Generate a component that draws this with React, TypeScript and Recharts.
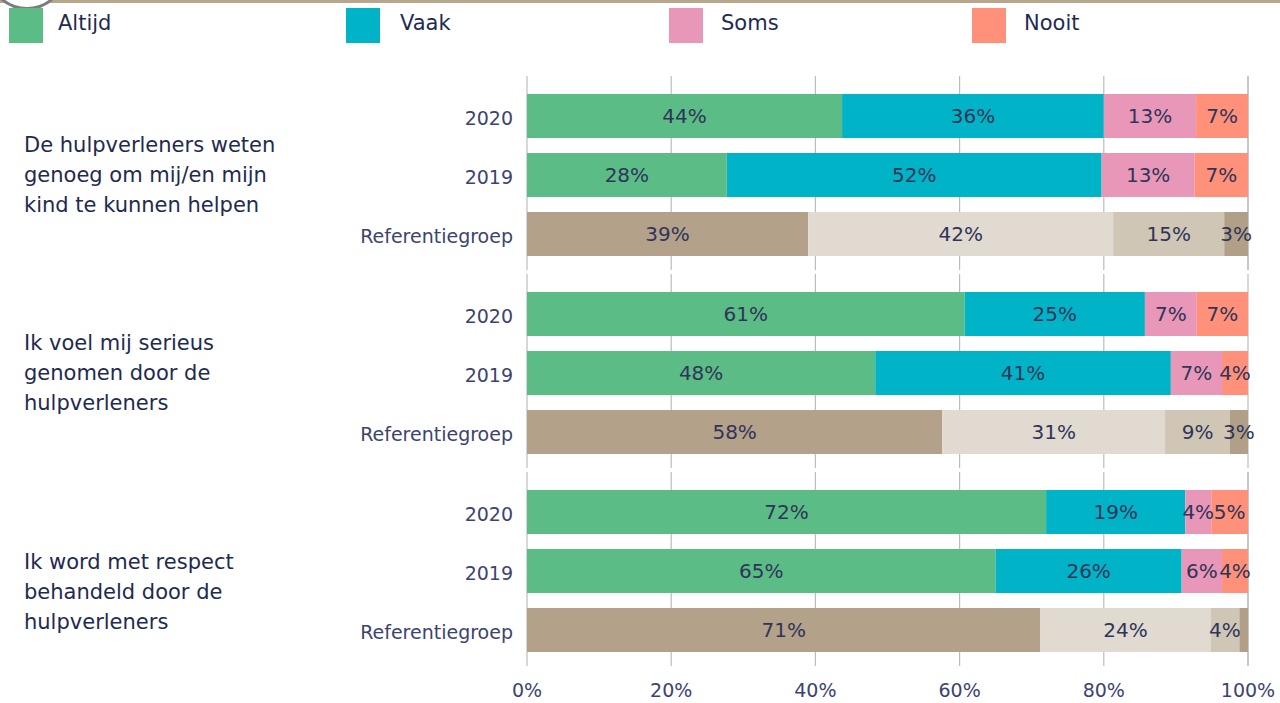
import React from 'react';
import { BarChart, Bar, XAxis, YAxis, CartesianGrid, Cell, LabelList } from 'recharts';

// categories / rows
const rowLabels = ['2020', '2019', 'Referentiegroep'];
const refLabel = 'Referentiegroep';
const series = ['Altijd', 'Vaak', 'Soms', 'Nooit'];
const xTicks = [0, 20, 40, 60, 80, 100];

// question texts (one entry per line)
const questionLines = [
  ['De hulpverleners weten', 'genoeg om mij/en mijn', 'kind te kunnen helpen'],
  ['Ik voel mij serieus', 'genomen door de', 'hulpverleners'],
  ['Ik word met respect', 'behandeld door de', 'hulpverleners'],
];

// values per question, rows in order 2020, 2019, Referentiegroep
const altijd = [
  [43.7, 27.7, 39.0],
  [60.7, 48.3, 57.6],
  [72.0, 65.0, 71.2],
];
const vaak = [
  [36.3, 52.0, 42.3],
  [25.0, 41.0, 30.9],
  [19.3, 25.8, 23.6],
];
const soms = [
  [12.8, 12.9, 15.4],
  [7.2, 7.1, 9.0],
  [3.6, 5.6, 4.0],
];
const nooit = [
  [7.2, 7.4, 3.3],
  [7.1, 3.6, 2.5],
  [5.1, 3.6, 1.2],
];

const seriesColors = ['#5bbc86', '#00b3c6', '#e997b8', '#ff907a'];
const refColors = ['#b3a189', '#e1dad0', '#d0c6b6', '#b1a087'];

const FONT = "'DejaVu Sans', Verdana, sans-serif";
const W = 1280;
const PLOT_LEFT = 527;
const PLOT_RIGHT = 1248;
const PLOT_H = 194;
const AXIS_H = 36;

const groupTops = [76, 274, 472];
const questionTops = [130, 328, 547];
const legendLefts = [9, 346, 669, 972];
const legendTextLefts = [58, 400, 721, 1024];

const buildGroup = (g: number) =>
  rowLabels.map((row, i) => ({
    row,
    Altijd: altijd[g][i],
    Vaak: vaak[g][i],
    Soms: soms[g][i],
    Nooit: nooit[g][i],
  }));

const fmt = (v: any) => (Number(v) >= 2 ? `${Math.round(Number(v))}%` : '');

const GroupChart: React.FC<{ g: number; showAxis: boolean }> = ({ g, showAxis }) => {
  const data = buildGroup(g);
  const height = PLOT_H + (showAxis ? AXIS_H : 0);
  return (
    <div style={{ position: 'absolute', left: 0, top: groupTops[g], width: W, height }}>
      <BarChart
        width={W}
        height={height}
        data={data}
        layout="vertical"
        barSize={44}
        margin={{ top: 0, right: W - PLOT_RIGHT, bottom: 0, left: 0 }}
      >
        <CartesianGrid horizontal={false} stroke="#bcbcbc" strokeWidth={1.2} />
        <XAxis
          type="number"
          domain={[0, 100]}
          ticks={xTicks}
          interval={0}
          hide={!showAxis}
          height={AXIS_H}
          axisLine={false}
          tickLine={false}
          tickSize={0}
          tickMargin={18}
          tickFormatter={(v) => `${v}%`}
          tick={{ fill: '#3d4370', fontSize: 19, fontFamily: FONT }}
        />
        <YAxis
          type="category"
          dataKey="row"
          width={PLOT_LEFT}
          axisLine={false}
          tickLine={false}
          tickSize={0}
          tickMargin={14}
          padding={{ top: 10, bottom: 7 }}
          tick={{ fill: '#3d4370', fontSize: 19, fontFamily: FONT, dy: 3 }}
        />
        {series.map((s, si) => (
          <Bar key={s} dataKey={s} stackId="a" isAnimationActive={false}>
            {data.map((d, i) => (
              <Cell key={i} fill={d.row === refLabel ? refColors[si] : seriesColors[si]} />
            ))}
            <LabelList
              dataKey={s}
              position="center"
              formatter={fmt}
              fill="#2f3559"
              fontSize={20}
              fontFamily={FONT}
            />
          </Bar>
        ))}
      </BarChart>
    </div>
  );
};

export default function App() {
  return (
    <div
      style={{
        position: 'absolute',
        left: 0,
        top: 0,
        width: W,
        height: 703,
        overflow: 'hidden',
        background: '#fff',
        fontFamily: FONT,
      }}
    >
      {/* top rule and corner ornament */}
      <div style={{ position: 'absolute', left: 0, top: 0, width: W, height: 3, background: '#b5a68c' }} />
      <div
        style={{
          position: 'absolute',
          left: -13,
          top: -70,
          width: 74,
          height: 74,
          borderRadius: '50%',
          border: '3px solid #7d7d7d',
          background: '#fff',
        }}
      />

      {/* legend */}
      {series.map((s, i) => (
        <React.Fragment key={s}>
          <div
            style={{
              position: 'absolute',
              left: legendLefts[i],
              top: 8,
              width: 34,
              height: 35,
              background: seriesColors[i],
            }}
          />
          <div
            style={{
              position: 'absolute',
              left: legendTextLefts[i],
              top: 8,
              lineHeight: '30px',
              fontSize: 21,
              color: '#1f2a50',
              whiteSpace: 'nowrap',
            }}
          >
            {s}
          </div>
        </React.Fragment>
      ))}

      {/* question labels */}
      {questionLines.map((lines, g) => (
        <div
          key={g}
          style={{
            position: 'absolute',
            left: 24,
            top: questionTops[g],
            fontSize: 21,
            lineHeight: '30px',
            color: '#1f2a50',
          }}
        >
          {lines.map((l, i) => (
            <div key={i} style={{ whiteSpace: 'nowrap' }}>{l}</div>
          ))}
        </div>
      ))}

      {questionLines.map((_, g) => (
        <GroupChart key={g} g={g} showAxis={g === questionLines.length - 1} />
      ))}
    </div>
  );
}
